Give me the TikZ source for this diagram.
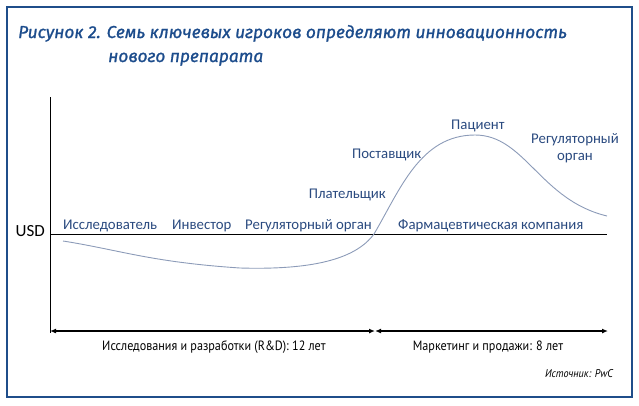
\documentclass[tikz,border=0pt]{standalone}
\usepackage{fontspec}
\setmainfont{Carlito}
\newfontfamily\titlefont[FakeBold=1.2]{Fira Sans}
\newfontfamily\labfont{Carlito}
\newfontfamily\botfont[FakeStretch=0.9]{PT Sans}
\usetikzlibrary{arrows.meta}
\definecolor{frameblue}{HTML}{1F4E8A}
\definecolor{titleblue}{HTML}{1C4C8C}
\definecolor{labblue}{HTML}{2A4A7F}
\definecolor{curvecol}{HTML}{8C9BB8}
\tikzset{
  player/.style={anchor=base west, inner sep=0pt, text=labblue, font=\labfont\fontsize{14.8}{16}\selectfont},
  period/.style={inner sep=0pt, font=\botfont\fontsize{13.5}{15}\selectfont},
  span/.style={line width=2pt, {Latex[length=6pt,width=5pt]}-{Latex[length=6pt,width=5pt]}},
  titletext/.style={anchor=base west, inner sep=0pt, text=titleblue, font=\titlefont\itshape\fontsize{17.3}{19}\selectfont},
}
\begin{document}
\begin{tikzpicture}[x=1pt,y=-1pt]
\useasboundingbox (0,0) rectangle (639,405);
\draw[frameblue, line width=2.5pt] (7,7) rectangle (632,397);
% title
\node[titletext] (t1) at (18,38) {Рисунок 2. Семь ключевых игроков определяют инновационность};
\node[titletext] (t2) at (108,62) {нового препарата};
% axes
\coordinate (ytop) at (50,97);
\coordinate (ybot) at (50,333);
\coordinate (x0) at (50,234);
\coordinate (x1) at (607,234);
\draw[line width=1pt] (ytop) -- (ybot);
\draw[line width=1pt] (x0) -- (x1);
\node[anchor=base east, inner sep=0pt, font=\labfont\fontsize{17}{18}\selectfont] (usd) at (45,236) {USD};
% curve
\draw[curvecol, line width=0.9pt] (63,241) .. controls (120,250) and (150,262) .. (240,268)
  .. controls (310,270) and (355,260) .. (374,234)
  .. controls (400,190) and (420,135) .. (475,135)
  .. controls (525,135) and (540,200) .. (607,216);
% players
\node[player] (p1) at (63,229) {Исследователь};
\node[player] (p2) at (172,229) {Инвестор};
\node[player] (p3) at (245,229) {Регуляторный орган};
\node[player] (p4) at (398,229) {Фармацевтическая компания};
\node[player, anchor=base east] (p5) at (386,198) {Плательщик};
\node[player] (p6) at (352,158) {Поставщик};
\node[player] (p7) at (451,129) {Пациент};
\node[player, anchor=base, align=center] (p8) at (575,160) {Регуляторный\\[1pt]орган};
% periods
\coordinate (a0) at (50,331);
\coordinate (a1) at (375,331);
\coordinate (a2) at (608,331);
\draw[span] (a0) -- (a1);
\draw[span] (a1) -- (a2);
\node[period] (rd) at (214,347) {Исследования и разработки (R\&D): 12 лет};
\node[period] (mk) at (488,347) {Маркетинг и продажи: 8 лет};
\node[anchor=base east, inner sep=0pt, font=\botfont\itshape\fontsize{11.3}{12}\selectfont] (src) at (613,377) {Источник: PwC};
\end{tikzpicture}
\end{document}
